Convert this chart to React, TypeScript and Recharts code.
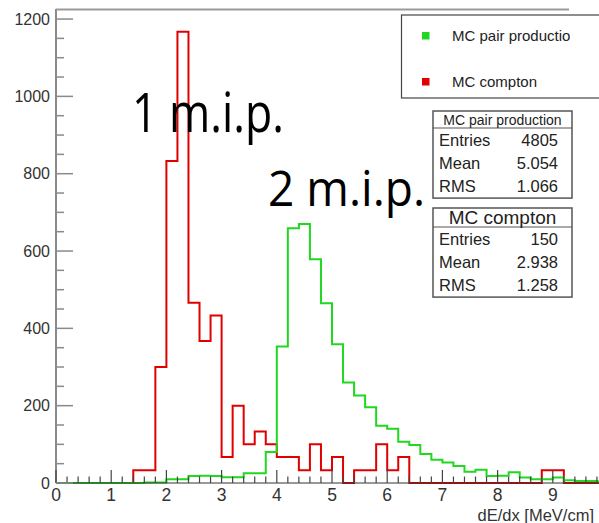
import { ComposedChart, Line, XAxis, YAxis } from "recharts";

// dE/dx histograms, 50 bins of 0.2 MeV/cm from 0 to 10
const BIN_WIDTH = 0.2;
const PAIR_COUNTS = [
  0, 0, 0, 0, 0, 0, 0, 0, 1, 1,
  10, 10, 18, 19, 18, 15, 15, 25, 25, 80,
  353, 659, 670, 579, 465, 359, 260, 226, 196, 148,
  140, 107, 98, 75, 60, 53, 44, 29, 34, 18,
  19, 28, 14, 10, 10, 14, 7, 5, 5, 4,
];
const COMPTON_COUNTS = [
  0, 0, 0, 0, 0, 0, 0, 33, 33, 300,
  833, 1167, 466, 367, 433, 67, 200, 100, 133, 100,
  67, 67, 33, 100, 33, 67, 0, 33, 33, 100,
  33, 67, 0, 0, 0, 0, 0, 0, 0, 0,
  0, 0, 0, 0, 33, 33, 0, 0, 0, 0,
];
const X_TICKS = [
  0, 0.2, 0.4, 0.6, 0.8, 1, 1.2, 1.4, 1.6, 1.8, 2, 2.2, 2.4, 2.6, 2.8, 3,
  3.2, 3.4, 3.6, 3.8, 4, 4.2, 4.4, 4.6, 4.8, 5, 5.2, 5.4, 5.6, 5.8, 6, 6.2,
  6.4, 6.6, 6.8, 7, 7.2, 7.4, 7.6, 7.8, 8, 8.2, 8.4, 8.6, 8.8, 9, 9.2, 9.4,
  9.6, 9.8,
];
const Y_TICKS = [
  0, 50, 100, 150, 200, 250, 300, 350, 400, 450, 500, 550, 600, 650, 700,
  750, 800, 850, 900, 950, 1000, 1050, 1100, 1150, 1200,
];
const SERIES_NAMES = ["MC pair production", "MC compton"];
const PAIR_STATS = [
  ["Entries", "4805"],
  ["Mean", "5.054"],
  ["RMS", "1.066"],
];
const COMPTON_STATS = [
  ["Entries", "150"],
  ["Mean", "2.938"],
  ["RMS", "1.258"],
];

const GREEN = "#1fd81f";
const RED = "#e00000";
const FONT = "'Liberation Sans', Arial, sans-serif";
const PLOT_LEFT = 56;
const PLOT_TOP = 9;
const PLOT_BOTTOM = 483;

const data = PAIR_COUNTS.map((_v, i) => ({
  x: Math.round(i * BIN_WIDTH * 10) / 10,
  pair: PAIR_COUNTS[i],
  compton: COMPTON_COUNTS[i],
}));
// closing edge at x = 10 so the last step is drawn
data.push({
  x: 10,
  pair: PAIR_COUNTS[PAIR_COUNTS.length - 1],
  compton: COMPTON_COUNTS[COMPTON_COUNTS.length - 1],
});

const YTick = ({ y, payload }: any) => {
  const v = payload.value;
  const major = v % 200 === 0;
  return (
    <g>
      <line
        x1={PLOT_LEFT}
        x2={PLOT_LEFT + (major ? 17 : 8)}
        y1={y}
        y2={y}
        stroke="#8a8a8a"
        strokeWidth={1.5}
      />
      {major && (
        <text
          x={50}
          y={y}
          dy="0.36em"
          textAnchor="end"
          fontFamily={FONT}
          fontSize={16}
          fill="#333"
        >
          {v}
        </text>
      )}
    </g>
  );
};

const XTick = ({ x, payload }: any) => {
  const v = payload.value;
  const major = Math.abs(v - Math.round(v)) < 1e-6;
  return (
    <g>
      <line
        x1={x}
        x2={x}
        y1={PLOT_BOTTOM}
        y2={PLOT_BOTTOM - (major ? 13 : 6.5)}
        stroke="#444"
        strokeWidth={1.2}
      />
      {major && (
        <text
          x={x}
          y={PLOT_BOTTOM + 12}
          dy="0.36em"
          textAnchor="middle"
          fontFamily={FONT}
          fontSize={17.5}
          fill="#333"
        >
          {Math.round(v)}
        </text>
      )}
    </g>
  );
};

function StatsBox({
  top,
  title,
  titleSize,
  titleHeight,
  rows,
}: {
  top: number;
  title: string;
  titleSize: number;
  titleHeight: number;
  rows: string[][];
}) {
  const left = 433;
  const right = 572;
  const rowH = 22.7;
  const bottom = top + titleHeight + rows.length * rowH + 2;
  return (
    <g fontFamily={FONT} fill="#222">
      <rect
        x={left}
        y={top}
        width={right - left}
        height={bottom - top}
        fill="#fff"
        stroke="#555"
        strokeWidth={1.5}
      />
      <line x1={left} x2={right} y1={top + titleHeight} y2={top + titleHeight} stroke="#555" strokeWidth={1.2} />
      <text
        x={(left + right) / 2}
        y={top + titleHeight / 2}
        dy="0.36em"
        textAnchor="middle"
        fontSize={titleSize}
      >
        {title}
      </text>
      {rows.map(([label, value], i) => (
        <g key={label}>
          <text x={left + 6} y={top + titleHeight + rowH * (i + 0.5) + 1} dy="0.36em" fontSize={16.5}>
            {label}
          </text>
          <text
            x={right - 14}
            y={top + titleHeight + rowH * (i + 0.5) + 1}
            dy="0.36em"
            fontSize={16.5}
            textAnchor="end"
          >
            {value}
          </text>
        </g>
      ))}
    </g>
  );
}

export default function App() {
  return (
    <div
      style={{
        position: "absolute",
        left: 0,
        top: 0,
        width: 599,
        height: 523,
        overflow: "hidden",
        background: "#fff",
      }}
    >
      <ComposedChart
        width={640}
        height={523}
        data={data}
        margin={{ top: PLOT_TOP, right: 32, bottom: 0, left: 0 }}
      >
        <XAxis
          type="number"
          dataKey="x"
          domain={[0, 10]}
          ticks={X_TICKS}
          interval={0}
          tick={<XTick />}
          tickLine={false}
          axisLine={{ stroke: "#333", strokeWidth: 1 }}
          height={40}
        />
        <YAxis
          type="number"
          domain={[0, 1226]}
          ticks={Y_TICKS}
          interval={0}
          tick={<YTick />}
          tickLine={false}
          axisLine={{ stroke: "#8a8a8a", strokeWidth: 2 }}
          width={PLOT_LEFT}
        />
        <Line
          type="stepAfter"
          dataKey="compton"
          stroke={RED}
          strokeWidth={2}
          dot={false}
          isAnimationActive={false}
        />
        <Line
          type="stepAfter"
          dataKey="pair"
          stroke={GREEN}
          strokeWidth={2}
          dot={false}
          isAnimationActive={false}
        />
      </ComposedChart>

      <svg
        width={599}
        height={523}
        style={{ position: "absolute", left: 0, top: 0, pointerEvents: "none" }}
      >
        <defs>
          <clipPath id="legendClip">
            <rect x={400} y={0} width={170} height={120} />
          </clipPath>
        </defs>
        {/* frame top */}
        <line x1={PLOT_LEFT} x2={569} y1={PLOT_TOP + 0.5} y2={PLOT_TOP + 0.5} stroke="#9a9a9a" strokeWidth={2} />

        {/* legend */}
        <rect x={401.5} y={15} width={230} height={83} fill="#fff" stroke="#444" strokeWidth={1.2} />
        <rect x={422} y={32} width={7.5} height={7.5} fill={GREEN} />
        <rect x={422} y={78} width={7.5} height={7.5} fill={RED} />
        <g clipPath="url(#legendClip)" fontFamily={FONT} fontSize={15} fill="#222">
          <text x={452} y={36} dy="0.36em">
            {SERIES_NAMES[0]}
          </text>
          <text x={452} y={82} dy="0.36em">
            {SERIES_NAMES[1]}
          </text>
        </g>

        <StatsBox top={111} title={SERIES_NAMES[0]} titleSize={14} titleHeight={17} rows={PAIR_STATS} />
        <StatsBox top={208} title={SERIES_NAMES[1]} titleSize={19} titleHeight={19} rows={COMPTON_STATS} />

        {/* annotations */}
        <text
          x={132}
          y={132}
          fontFamily="'Open Sans', sans-serif"
          fontSize={54}
          textLength={152}
          lengthAdjust="spacingAndGlyphs"
          fill="#000"
        >
          1 m.i.p.
        </text>
        <text
          x={268}
          y={206}
          fontFamily="'Open Sans', sans-serif"
          fontSize={50}
          textLength={157}
          lengthAdjust="spacingAndGlyphs"
          fill="#000"
        >
          2 m.i.p.
        </text>

        {/* x axis title */}
        <text
          x={594}
          y={515}
          dy="0.36em"
          textAnchor="end"
          fontFamily={FONT}
          fontSize={16.5}
          fill="#333"
        >
          dE/dx [MeV/cm]
        </text>
      </svg>
    </div>
  );
}
